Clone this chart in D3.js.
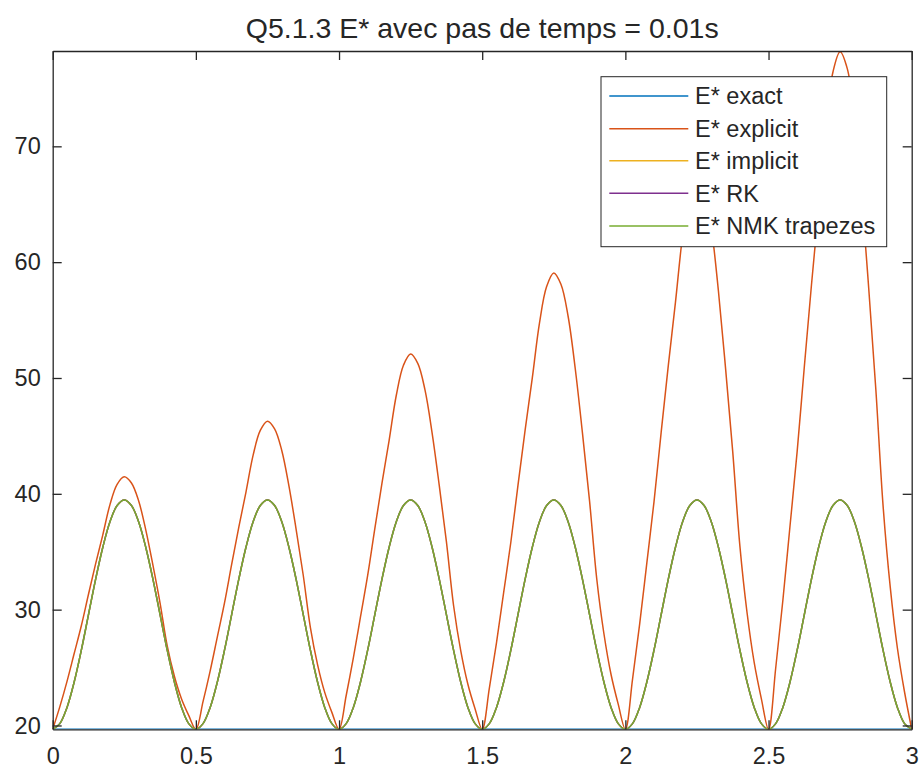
<!DOCTYPE html>
<html>
<head>
<meta charset="utf-8">
<script src="https://cdn.jsdelivr.net/npm/d3@7"></script>
<style>
  html, body { margin: 0; padding: 0; background: #fff; }
  svg { display: block; }
  text { font-family: "Liberation Sans", Arial, Helvetica, sans-serif; fill: #262626; }
</style>
</head>
<body>
<svg id="chart" width="919" height="772"></svg>
<script>
// ---------------- data ----------------
const chartTitle = "Q5.1.3 E* avec pas de temps = 0.01s";
const seriesNames = ["E* exact", "E* explicit", "E* implicit", "E* RK", "E* NMK trapezes"];
const seriesColors = ["#0072BD", "#D95319", "#EDB120", "#7E2F8E", "#77AC30"];
const xTicks = [0, 0.5, 1, 1.5, 2, 2.5, 3];
const xTickLabels = ["0", "0.5", "1", "1.5", "2", "2.5", "3"];
const yTicks = [20, 30, 40, 50, 60, 70];
const yTickLabels = ["20", "30", "40", "50", "60", "70"];

// sample times (s), every 0.025 s from 0 to 3
const times = d3.range(121).map(i => +(i * 0.025).toFixed(3));

// E* exact: flat line
const exactE = times.map(() => 19.67);

// E* explicit (growing humps)
const explicitE = [
  19.67, 21.63, 23.81, 26.21, 28.61, 31.33, 33.97, 36.46, 39.07, 40.82, 41.47, 40.93, 39.40, 36.89, 33.84, 30.57, 26.86, 24.25, 22.29, 20.87,
  19.67, 22.06, 24.72, 27.65, 30.58, 33.90, 37.12, 40.15, 43.34, 45.47, 46.27, 45.61, 43.74, 40.68, 36.96, 32.97, 28.45, 25.26, 22.86, 21.13,
  19.67, 22.59, 25.83, 29.39, 32.95, 37.00, 40.92, 44.62, 48.51, 51.10, 52.07, 51.26, 48.99, 45.27, 40.73, 35.87, 30.36, 26.47, 23.56, 21.45,
  19.67, 23.22, 27.16, 31.49, 35.82, 40.75, 45.52, 50.01, 54.74, 57.89, 59.07, 58.09, 55.33, 50.80, 45.28, 39.37, 32.67, 27.94, 24.40, 21.84,
  19.67, 23.98, 28.77, 34.04, 39.31, 45.30, 51.09, 56.55, 62.30, 66.13, 67.57, 66.37, 63.02, 57.51, 50.81, 43.62, 35.48, 29.73, 25.42, 22.30,
  19.67, 24.94, 30.79, 37.22, 43.66, 50.97, 58.05, 64.72, 71.74, 76.42, 78.17, 76.71, 72.61, 65.89, 57.70, 48.92, 38.98, 31.96, 26.69, 22.89,
  19.67
];

// E* implicit / RK / NMK trapezes (superimposed, steady humps)
const implicitE = [
  19.67, 20.16, 21.56, 23.75, 26.50, 29.57, 32.64, 35.39, 37.59, 38.99, 39.47, 38.99, 37.59, 35.39, 32.64, 29.57, 26.50, 23.75, 21.56, 20.16,
  19.67, 20.16, 21.56, 23.75, 26.50, 29.57, 32.64, 35.39, 37.59, 38.99, 39.47, 38.99, 37.59, 35.39, 32.64, 29.57, 26.50, 23.75, 21.56, 20.16,
  19.67, 20.16, 21.56, 23.75, 26.50, 29.57, 32.64, 35.39, 37.59, 38.99, 39.47, 38.99, 37.59, 35.39, 32.64, 29.57, 26.50, 23.75, 21.56, 20.16,
  19.67, 20.16, 21.56, 23.75, 26.50, 29.57, 32.64, 35.39, 37.59, 38.99, 39.47, 38.99, 37.59, 35.39, 32.64, 29.57, 26.50, 23.75, 21.56, 20.16,
  19.67, 20.16, 21.56, 23.75, 26.50, 29.57, 32.64, 35.39, 37.59, 38.99, 39.47, 38.99, 37.59, 35.39, 32.64, 29.57, 26.50, 23.75, 21.56, 20.16,
  19.67, 20.16, 21.56, 23.75, 26.50, 29.57, 32.64, 35.39, 37.59, 38.99, 39.47, 38.99, 37.59, 35.39, 32.64, 29.57, 26.50, 23.75, 21.56, 20.16,
  19.67
];
const rkE = implicitE.slice();
const nmkE = implicitE.slice();

const seriesValues = [exactE, explicitE, implicitE, rkE, nmkE];

// ---------------- layout ----------------
const svg = d3.select("#chart");
const W = 919, H = 772;
const m = { left: 52.7, right: W - 911.7, top: 51, bottom: H - 729.3 };
const pw = W - m.left - m.right, ph = H - m.top - m.bottom;
const axisColor = "#262626";
const tickLen = 9;
const tickFont = 23.5;

const allVals = seriesValues.flat();
const x = d3.scaleLinear().domain([0, 3]).range([m.left, m.left + pw]);
const y = d3.scaleLinear().domain([d3.min(allVals), d3.max(allVals) + 0.06]).range([m.top + ph, m.top]);

// clip
svg.append("defs").append("clipPath").attr("id", "clip")
  .append("rect").attr("x", m.left).attr("y", m.top).attr("width", pw).attr("height", ph);

// white plot background
svg.append("rect").attr("x", m.left).attr("y", m.top).attr("width", pw).attr("height", ph).attr("fill", "#fff");

// lines
const line = d3.line().x((d, i) => x(times[i])).y(d => y(d)).curve(d3.curveCatmullRom.alpha(0.5));
const gLines = svg.append("g").attr("clip-path", "url(#clip)");
seriesValues.forEach((vals, k) => {
  gLines.append("path")
    .datum(vals)
    .attr("d", line)
    .attr("fill", "none")
    .attr("stroke", seriesColors[k])
    .attr("stroke-width", 1.5)
    .attr("stroke-linejoin", "round");
});

// axes (MATLAB box style: ticks inside on all sides)
function styleAxis(g) {
  g.selectAll(".domain").attr("stroke", axisColor).attr("stroke-width", 1.3);
  g.selectAll(".tick line").attr("stroke", axisColor).attr("stroke-width", 1.3);
  g.selectAll(".tick text").attr("fill", axisColor).style("font-size", tickFont + "px")
    .style("font-family", '"Liberation Sans", Arial, sans-serif');
}
const xAxisB = d3.axisBottom(x).tickValues(xTicks).tickFormat((d, i) => xTickLabels[i])
  .tickSizeInner(-tickLen).tickSizeOuter(0).tickPadding(tickLen + 9);
const gxb = svg.append("g").attr("transform", `translate(0,${m.top + ph})`).call(xAxisB);
styleAxis(gxb);

const xAxisT = d3.axisTop(x).tickValues(xTicks).tickFormat("")
  .tickSizeInner(-tickLen).tickSizeOuter(0);
const gxt = svg.append("g").attr("transform", `translate(0,${m.top})`).call(xAxisT);
styleAxis(gxt);

const yAxisL = d3.axisLeft(y).tickValues(yTicks).tickFormat((d, i) => yTickLabels[i])
  .tickSizeInner(-tickLen).tickSizeOuter(0).tickPadding(tickLen + 3);
const gyl = svg.append("g").attr("transform", `translate(${m.left},0)`).call(yAxisL);
styleAxis(gyl);

const yAxisR = d3.axisRight(y).tickValues(yTicks).tickFormat("")
  .tickSizeInner(-tickLen).tickSizeOuter(0);
const gyr = svg.append("g").attr("transform", `translate(${m.left + pw},0)`).call(yAxisR);
styleAxis(gyr);

// title
svg.append("text")
  .attr("x", m.left + pw / 2).attr("y", 38)
  .attr("text-anchor", "middle")
  .style("font-size", "28.5px")
  .text(chartTitle);

// legend
const lg = svg.append("g");
const lgX = 601, lgY = 76.7, lgW = 285.7, lgH = 170;
lg.append("rect").attr("x", lgX).attr("y", lgY).attr("width", lgW).attr("height", lgH)
  .attr("fill", "#fff").attr("stroke", axisColor).attr("stroke-width", 1);
const rowY = [96, 128.7, 160.7, 193.3, 226];
seriesNames.forEach((name, k) => {
  lg.append("line")
    .attr("x1", 609.3).attr("x2", 688.3).attr("y1", rowY[k]).attr("y2", rowY[k])
    .attr("stroke", seriesColors[k]).attr("stroke-width", 1.5);
  lg.append("text")
    .attr("x", 695).attr("y", rowY[k]).attr("dy", "0.36em")
    .style("font-size", "23.5px")
    .text(name);
});
</script>
</body>
</html>
